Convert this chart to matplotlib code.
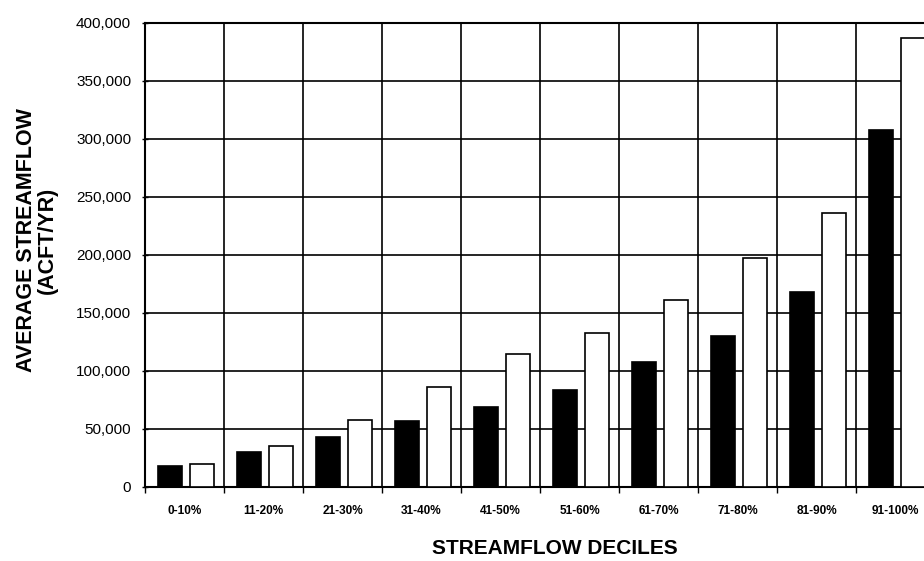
import matplotlib.pyplot as plt
import numpy as np

# Datos
deciles = ['0-10%', '11-20%', '21-30%', '31-40%', '41-50%',
           '51-60%', '61-70%', '71-80%', '81-90%', '91-100%']
serie_negra = [18000, 30000, 43000, 57000, 69000, 84000, 108000, 130000, 168000, 308000]
serie_blanca = [20000, 35000, 58000, 86000, 115000, 133000, 161000, 197000, 236000, 387000]
yticks = [0, 50000, 100000, 150000, 200000, 250000, 300000, 350000, 400000]

plt.rcParams['font.family'] = ['Liberation Sans', 'DejaVu Sans']

fig = plt.figure(figsize=(9.24, 5.61), dpi=100)
# el área del gráfico sigue más allá del borde derecho de la imagen
ax = fig.add_axes([145 / 924, 74 / 561, 790 / 924, 464 / 561])

x = np.arange(len(deciles))
ancho = 0.3
ax.bar(x - 0.185, serie_negra, ancho, color='black', edgecolor='black', linewidth=1.2, zorder=3)
ax.bar(x + 0.22, serie_blanca, ancho, color='white', edgecolor='black', linewidth=1.2, zorder=3)

ax.set_xlim(-0.5, len(deciles) - 0.5)
ax.set_ylim(0, 400000)

# Etiquetas en el centro, rejilla en los bordes de cada categoría
ax.set_xticks(x)
ax.set_xticklabels(deciles, fontsize=8.5, fontweight='bold')
ax.tick_params(axis='x', which='major', length=0, pad=13)
ax.set_xticks(np.arange(len(deciles) + 1) - 0.5, minor=True)
ax.tick_params(axis='x', which='minor', length=4, direction='out', width=1)

ax.set_yticks(yticks)
ax.set_yticklabels([f'{v:,}' for v in yticks], fontsize=11)
ax.tick_params(axis='y', length=4, direction='inout', width=1, pad=8)

ax.grid(axis='y', which='major', color='black', linewidth=1.2)
ax.grid(axis='x', which='minor', color='black', linewidth=1.2)
ax.set_axisbelow(True)

for lado in ['top', 'left', 'bottom', 'right']:
    ax.spines[lado].set_linewidth(1.5)

fig.text(37 / 924, 1 - 240 / 561, 'AVERAGE STREAMFLOW\n(ACFT/YR)', rotation=90,
         ha='center', va='center', multialignment='center',
         fontsize=15.5, fontweight='bold', linespacing=1.0)
fig.text(555 / 924, 1 - 548 / 561, 'STREAMFLOW DECILES', ha='center', va='center',
         fontsize=15, fontweight='bold')

fig.savefig('out.png', dpi=100)
